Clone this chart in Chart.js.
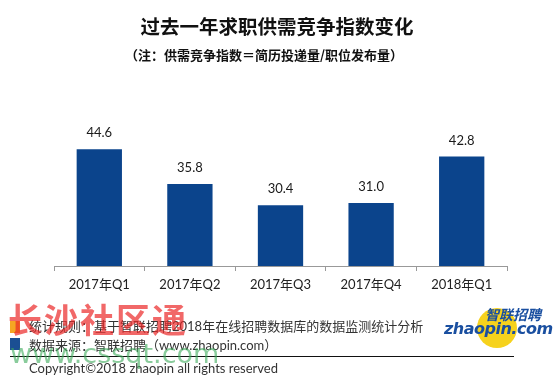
<!DOCTYPE html>
<html>
<head>
<meta charset="utf-8">
<script src="https://cdn.jsdelivr.net/npm/chart.js@4.4.0/dist/chart.umd.min.js"></script>
<style>
  body { margin: 0; background: #fff; }
  #wrap { position: relative; width: 554px; height: 384px; overflow: hidden; font-family: Lato, "Noto Sans CJK SC", sans-serif; }
  #grafo { position: absolute; left: 0; top: 0; }
  .abs { position: absolute; white-space: nowrap; }
  #titulo { left: 0; width: 554px; top: 11px; text-align: center; font: bold 19.5px "Noto Sans CJK SC", sans-serif; color: #111; }
  #subtitulo { left: 0; width: 528px; top: 45px; text-align: center; font: bold 13px "Noto Sans CJK SC", sans-serif; color: #111; }
  .pie { left: 29px; font-size: 13px; color: #333; font-family: Lato, "Noto Sans CJK SC", sans-serif; }
  #linea { left: 10px; top: 356px; width: 504px; height: 1px; background: #111; }
  #cuadro1 { left: 10px; top: 321px; width: 10px; height: 12px; background: #f5a623; }
  #cuadro2 { left: 10px; top: 338px; width: 10px; height: 12px; background: #1b4f93; }
  #circulo { left: 477px; top: 308px; width: 40px; height: 40px; border-radius: 50%; background: #f6d21d; }
  #logo1 { left: 485px; top: 304px; font: italic bold 14px "Noto Sans CJK SC", sans-serif; color: #1a4fa0; }
  #logo2 { left: 444px; top: 319px; font: italic bold 16px "DejaVu Sans", sans-serif; color: #1a4fa0; letter-spacing: -0.5px; }
  #marca1 { left: 8px; top: 294px; font: bold 34px "Noto Sans CJK SC", sans-serif; color: rgba(235,40,40,0.7); letter-spacing: 2px; }
  #marca2 { left: 10px; top: 338px; font: 27px "DejaVu Sans", sans-serif; color: rgba(60,170,90,0.6); }
</style>
</head>
<body>
<div id="wrap">
  <canvas id="grafo" width="554" height="384"></canvas>
  <div id="titulo" class="abs">过去一年求职供需竞争指数变化</div>
  <div id="subtitulo" class="abs">（注：供需竞争指数＝简历投递量/职位发布量）</div>
  <div id="cuadro1" class="abs"></div>
  <div id="cuadro2" class="abs"></div>
  <div class="abs pie" style="top:316px">统计规则：基于智联招聘2018年在线招聘数据库的数据监测统计分析</div>
  <div class="abs pie" style="top:335px">数据来源：智联招聘（www.zhaopin.com）</div>
  <div id="linea" class="abs"></div>
  <div class="abs pie" style="top:360px">Copyright©2018 zhaopin all rights reserved</div>
  <div id="circulo" class="abs"></div>
  <div id="logo1" class="abs">智联招聘</div>
  <div id="logo2" class="abs">zhaopin.com</div>
  <div id="marca1" class="abs">长沙社区通</div>
  <div id="marca2" class="abs">www.cssqt.com</div>
</div>
<script>
// datos del grafico
const trimestres = ['2017年Q1', '2017年Q2', '2017年Q3', '2017年Q4', '2018年Q1'];
const indices = [44.6, 35.8, 30.4, 31.0, 42.8];

// etiquetas encima de cada barra
const etiquetas = {
  id: 'etiquetas',
  afterDatasetsDraw(chart) {
    const ctx = chart.ctx;
    ctx.save();
    ctx.font = '13px Lato, "Noto Sans CJK SC"';
    ctx.fillStyle = '#1a1a1a';
    ctx.textAlign = 'center';
    ctx.textBaseline = 'middle';
    chart.getDatasetMeta(0).data.forEach((barra, i) => {
      ctx.fillText(indices[i].toFixed(1), barra.x, barra.y - 16);
    });
    ctx.restore();
  }
};

new Chart(document.getElementById('grafo'), {
  type: 'bar',
  data: {
    labels: trimestres,
    datasets: [{
      data: indices,
      backgroundColor: '#0b448c',
      barPercentage: 0.5,
      categoryPercentage: 1
    }]
  },
  options: {
    responsive: false,
    animation: false,
    layout: { padding: { left: 54, right: 47, top: 128, bottom: 0 } },
    plugins: { legend: { display: false }, tooltip: { enabled: false } },
    scales: {
      x: {
        grid: { offset: true, drawOnChartArea: false, drawTicks: true, tickLength: 5, color: '#999' },
        border: { color: '#999' },
        ticks: { color: '#222', font: { size: 13, family: 'Lato, "Noto Sans CJK SC"' }, padding: 6 },
        afterFit(scale) { scale.height = 118; }
      },
      y: { display: false, min: 15, max: 50 }
    }
  },
  plugins: [etiquetas]
});
</script>
</body>
</html>
